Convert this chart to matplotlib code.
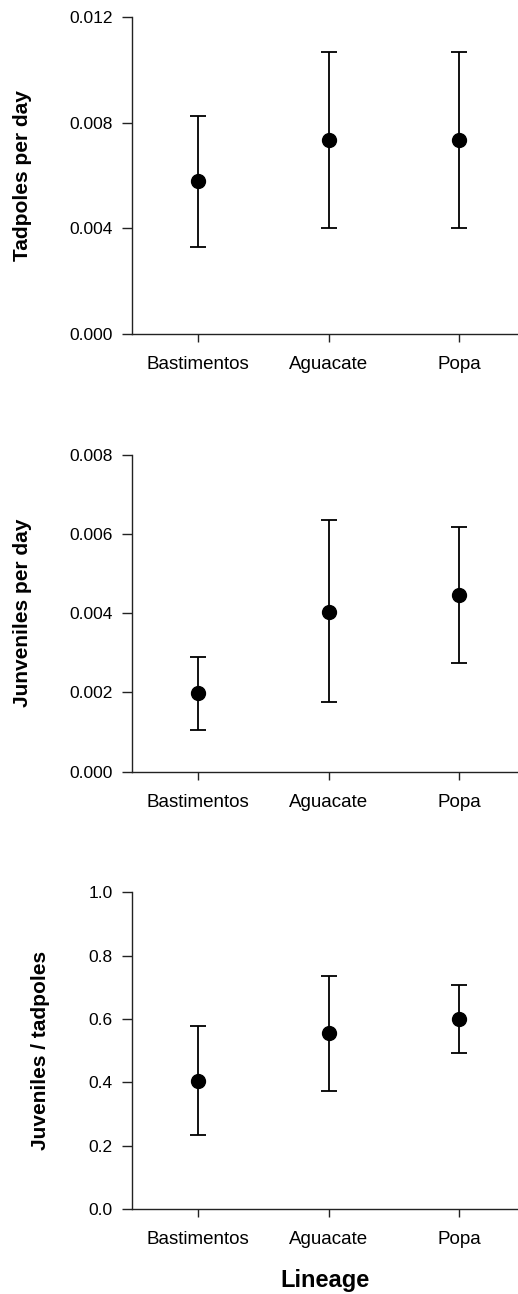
import numpy as np
import matplotlib
matplotlib.use("Agg")
import matplotlib.pyplot as plt

plt.rcParams['font.family'] = ['Liberation Sans', 'DejaVu Sans']

# lineages on the x axis
lineages = ["Bastimentos", "Aguacate", "Popa"]

# tadpoles per day: mean, lower and upper error bar ends
tad_mean = [0.00578, 0.00736, 0.00736]
tad_low = [0.00329, 0.00400, 0.00400]
tad_high = [0.00825, 0.01068, 0.01068]

# juveniles per day
juv_mean = [0.00198, 0.00403, 0.00447]
juv_low = [0.00106, 0.00176, 0.00275]
juv_high = [0.00290, 0.00634, 0.00618]

# juveniles / tadpoles ratio
rat_mean = [0.406, 0.555, 0.601]
rat_low = [0.233, 0.373, 0.494]
rat_high = [0.577, 0.737, 0.707]

tad_ticks = [0.000, 0.004, 0.008, 0.012]
juv_ticks = [0.000, 0.002, 0.004, 0.006, 0.008]
rat_ticks = [0.0, 0.2, 0.4, 0.6, 0.8, 1.0]

panels = [
    (tad_mean, tad_low, tad_high, tad_ticks, "%.3f", "Tadpoles per day", -0.258),
    (juv_mean, juv_low, juv_high, juv_ticks, "%.3f", "Junveniles per day", -0.258),
    (rat_mean, rat_low, rat_high, rat_ticks, "%.1f", "Juveniles / tadpoles", -0.212),
]

fig = plt.figure(figsize=(5.18, 12.94), dpi=100)
bottoms = [0.7419, 0.4036, 0.0655]
x = np.arange(len(lineages))

for (mean, low, high, ticks, fmt, label, lx), b in zip(panels, bottoms):
    ax = fig.add_axes([0.2548, b, 0.7452, 0.245])
    mean = np.array(mean)
    err = [mean - np.array(low), np.array(high) - mean]
    ax.errorbar(x, mean, yerr=err, fmt='o', color='black', ms=10,
                elinewidth=1.3, capsize=5.5, capthick=1.3)
    ax.set_xlim(-0.505, 2.45)
    ax.set_ylim(ticks[0], ticks[-1])
    ax.set_yticks(ticks)
    ax.set_yticklabels([fmt % t for t in ticks])
    ax.set_xticks(x)
    ax.set_xticklabels(lineages)
    ax.spines['top'].set_visible(False)
    ax.spines['right'].set_visible(False)
    for s in ['left', 'bottom']:
        ax.spines[s].set_linewidth(1.0)
        ax.spines[s].set_color('#222222')
    ax.tick_params(axis='y', length=7, width=1.0, pad=7, labelsize=12.5, color='#222222')
    ax.tick_params(axis='x', length=6, width=1.0, pad=10, labelsize=13.5, color='#222222')
    ax.set_ylabel(label, fontsize=15, fontweight='bold')
    ax.yaxis.set_label_coords(lx, 0.5)

ax.set_xlabel("Lineage", fontsize=17, fontweight='bold', labelpad=15)

fig.savefig("out.png", dpi=100)
